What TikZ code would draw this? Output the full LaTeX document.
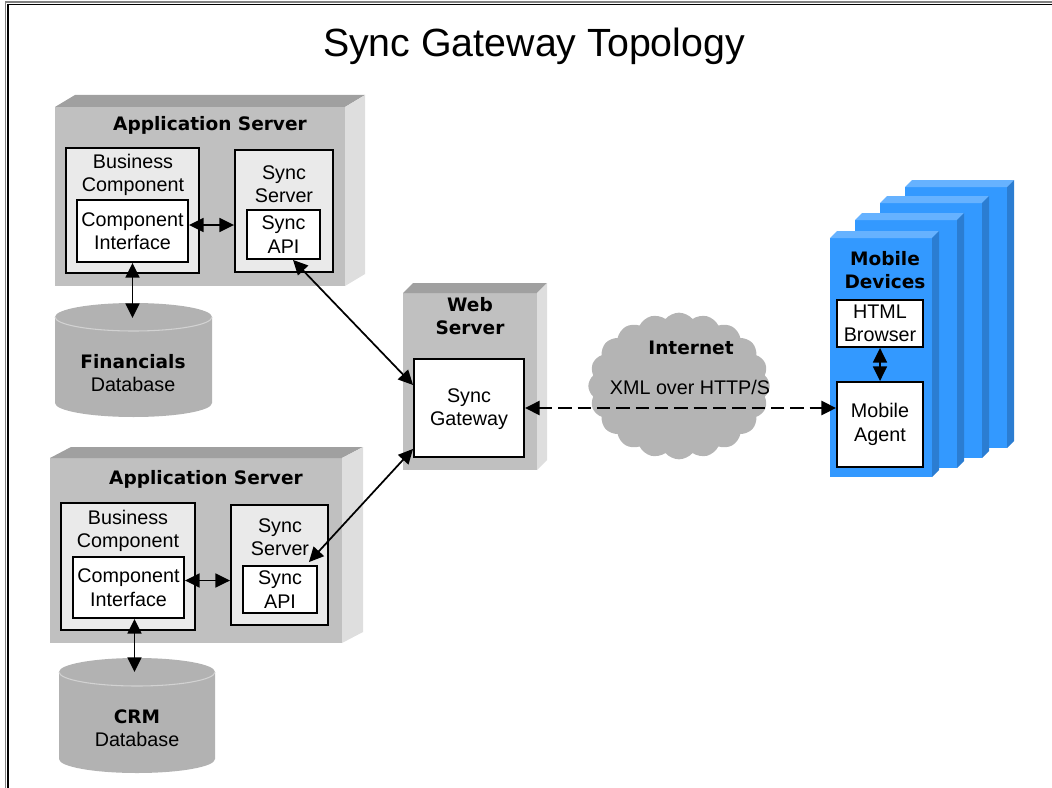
\documentclass[tikz,border=0pt]{standalone}
\usepackage{fontspec}
\setmainfont{Liberation Sans}
\newfontfamily\dvs{DejaVu Sans}
\usetikzlibrary{arrows.meta,fit,shapes.symbols,calc}
\definecolor{grayF}{HTML}{C0C0C0}
\definecolor{grayT}{HTML}{A0A0A0}
\definecolor{grayS}{HTML}{DEDEDE}
\definecolor{boxgray}{HTML}{EAEAEA}
\definecolor{dbF}{HTML}{B2B2B2}
\definecolor{dbL}{HTML}{D2D2D2}
\definecolor{cloudc}{HTML}{B4B4B4}
\definecolor{blueF}{HTML}{3399FF}
\definecolor{blueT}{HTML}{66B2FF}
\definecolor{blueS}{HTML}{2B7DD2}
\newcommand{\regf}{\fontsize{14.8}{17.6}\selectfont}
\newcommand{\bldf}{\dvs\bfseries\fontsize{13.9}{17.6}\selectfont}
\tikzset{
  face/.style={inner sep=0pt, outer sep=0pt, draw=none},
  lbox/.style={draw=black, line width=1.4pt, fill=boxgray, inner sep=0pt},
  wbox/.style={draw=black, line width=1.4pt, fill=white, inner sep=0pt},
  txt/.style={align=center, font=\regf, inner sep=0pt},
  btxt/.style={align=center, font=\bldf, inner sep=0pt},
  arr/.style={{Triangle[length=11pt,width=10.5pt]}-{Triangle[length=11pt,width=10.5pt]}, line width=1.3pt},
  darr/.style={{Triangle[length=11pt,width=10.5pt]}-{Triangle[length=11pt,width=10.5pt]}, line width=1.7pt, dash pattern=on 10pt off 4.5pt},
}
\begin{document}
\begin{tikzpicture}[x=0.75pt,y=-0.75pt]
\useasboundingbox (0,0) rectangle (1052,788);
% frame
\draw[line width=1.3pt, gray] (5.5,788) -- (5.5,2) -- (1052,2);
\draw[line width=1.3pt, black] (8,788) -- (8,4.5) -- (1052,4.5);
% title
\node[font=\fontsize{29.5}{34}\selectfont, inner sep=0pt] (title) at (534,46) {Sync Gateway Topology};

% ---------- top application server ----------
\node[face, fill=grayF, fit={(55,107)(345,286)}] (as1) {};
\fill[grayT] (as1.north west) -- ++(20,-12) -- ($(as1.north east)+(20,-12)$) -- (as1.north east) -- cycle;
\fill[grayS] (as1.north east) -- ++(20,-12) -- ($(as1.south east)+(20,-12)$) -- (as1.south east) -- cycle;
\node[btxt] (as1t) at (210,125) {Application Server};
\node[lbox, fit={(66,148)(199,273)}] (bc1) {};
\node[txt] (bc1t) at (133,175) {Business\\Component};
\node[wbox, fit={(77,200)(188,262)}] (ci1) {};
\node[txt] (ci1t) at (ci1.center) {Component\\Interface};
\node[lbox, fit={(235,150)(333,272)}] (ss1) {};
\node[txt] (ss1t) at (284,184) {Sync\\Server};
\node[wbox, fit={(247,210)(320,259)}] (sa1) {};
\node[txt] (sa1t) at (sa1.center) {Sync\\API};

% Financials database
\fill[dbF] (55,317) -- (55,403) arc[start angle=180,end angle=360,x radius=58.875pt,y radius=10.5pt] -- (212,317) arc[start angle=0,end angle=180,x radius=58.875pt,y radius=10.5pt] -- cycle;
\draw[dbL, line width=0.8pt] (212,317) arc[start angle=0,end angle=-180,x radius=58.875pt,y radius=10.5pt];
\coordinate (fdb) at (132.5,318);
\node[txt] (fdbt) at (133,373) {{\bldf Financials}\\Database};

% ---------- bottom application server ----------
\node[face, fill=grayF, fit={(50,458)(342,643)}] (as2) {};
\fill[grayT] (as2.north west) -- ++(21,-11) -- ($(as2.north east)+(21,-11)$) -- (as2.north east) -- cycle;
\fill[grayS] (as2.north east) -- ++(21,-11) -- ($(as2.south east)+(21,-11)$) -- (as2.south east) -- cycle;
\node[btxt] (as2t) at (206,479) {Application Server};
\node[lbox, fit={(61,503)(195,630)}] (bc2) {};
\node[txt] (bc2t) at (128,531) {Business\\Component};
\node[wbox, fit={(73,557)(184,618)}] (ci2) {};
\node[txt] (ci2t) at (ci2.center) {Component\\Interface};
\node[lbox, fit={(231,505)(328,625)}] (ss2) {};
\node[txt] (ss2t) at (280,537) {Sync\\Server};
\node[wbox, fit={(243,566)(317,613)}] (sa2) {};
\node[txt] (sa2t) at (sa2.center) {Sync\\API};

% CRM database
\fill[dbF] (59,672) -- (59,759) arc[start angle=180,end angle=360,x radius=58.5pt,y radius=10.5pt] -- (215,672) arc[start angle=0,end angle=180,x radius=58.5pt,y radius=10.5pt] -- cycle;
\draw[dbL, line width=0.8pt] (215,672) arc[start angle=0,end angle=-180,x radius=58.5pt,y radius=10.5pt];
\coordinate (cdb) at (134.5,672);
\node[txt] (cdbt) at (137,728) {{\bldf CRM}\\Database};

% ---------- web server ----------
\node[face, fill=grayF, fit={(403,293)(537,470)}] (ws) {};
\fill[grayT] (ws.north west) -- ++(10,-10) -- ($(ws.north east)+(10,-10)$) -- (ws.north east) -- cycle;
\fill[grayS] (ws.north east) -- ++(10,-10) -- ($(ws.south east)+(10,-10)$) -- (ws.south east) -- cycle;
\node[btxt] (wst) at (470,316) {Web\\Server};
\node[wbox, fit={(414,359)(524,457)}] (sg) {};
\node[txt] (sgt) at ($(sg.center)+(0,1)$) {Sync\\Gateway};

% ---------- internet cloud ----------
\node[cloud, cloud puffs=20, cloud puff arc=100, aspect=1.22, fill=cloudc, draw=none, minimum width=136pt, minimum height=110pt, inner sep=0pt] (net) at (679,386) {};
\node[btxt] (nett) at (691,348) {Internet};
\node[txt] (xml) at (690,387) {XML over HTTP/S};

% ---------- mobile devices ----------
\foreach \i/\x/\t/\b in {4/905/187/448, 3/880/203/458, 2/855/220/468, 1/830/238/477} {
  \node[face, fill=blueF, fit={(\x,\t)(\x+102,\b)}] (md\i) {};
  \fill[blueT] (md\i.north west) -- ++(7,-7) -- ($(md\i.north east)+(7,-7)$) -- (md\i.north east) -- cycle;
  \fill[blueS] (md\i.north east) -- ++(7,-7) -- ($(md\i.south east)+(7,-7)$) -- (md\i.south east) -- cycle;
}
\node[btxt] (mdt) at (885,270) {Mobile\\Devices};
\node[wbox, fit={(837,300)(923,347)}] (hb) {};
\node[txt] (hbt) at (hb.center) {HTML\\Browser};
\node[wbox, fit={(837,382)(923,467)}] (ma) {};
\node[txt] (mat) at (ma.center) {Mobile\\Agent};

% ---------- connectors ----------
\draw[arr] ($(ci1.east)+(0,-6)$) -- ($(ci1.east -| ss1.west)+(0,-6)$);
\draw[arr] ($(ci2.east)+(0,-7)$) -- ($(ci2.east -| ss2.west)+(0,-7)$);
\draw[arr] (ci1.south) -- (fdb);
\draw[arr] ($(ci2.south)+(6,0)$) -- (cdb);
\draw[arr] ($(sa1.south)+(9.5,0)$) -- ($(sg.west)+(0,-23)$);
\draw[arr] ($(sg.south west)+(0,-9)$) -- ($(sa2.north east)+(-9,-3)$);
\draw[arr] (hb.south) -- (ma.north);
\draw[darr] (sg.east) -- (sg.east -| ma.west);
\end{tikzpicture}
\end{document}
